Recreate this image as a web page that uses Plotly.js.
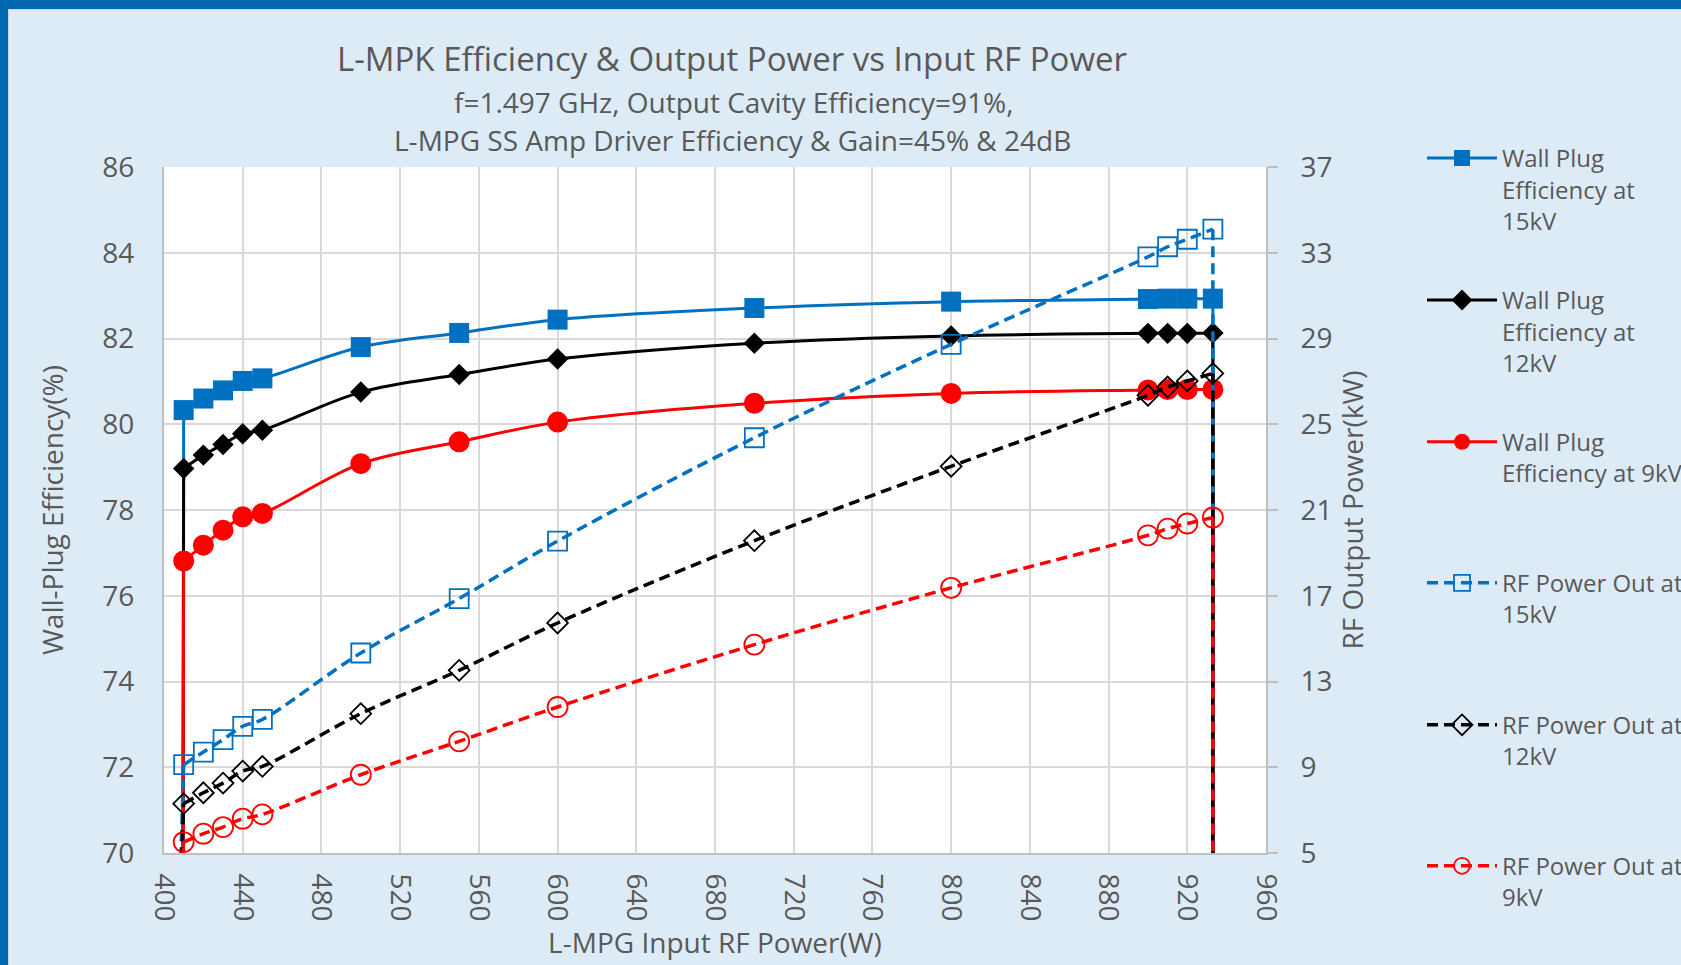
<!DOCTYPE html>
<html>
<head>
<meta charset="utf-8">
<script src="https://cdn.plot.ly/plotly-3.0.1.min.js"></script>
<style>
  html, body { margin: 0; padding: 0; background: #DDEBF7; }
  #chart { position: absolute; left: 0; top: 0; width: 1681px; height: 965px; }
  #frameTop { position: absolute; left: 0; top: 0; width: 1681px; height: 9px; background: #0067B1; pointer-events: none; }
  #frameLeft { position: absolute; left: 0; top: 0; width: 8px; height: 965px; background: #0067B1; pointer-events: none; }
  #frameInner { position: absolute; left: 8px; top: 9px; width: 1673px; height: 956px; border-top: 1px solid #C9D3DD; border-left: 1px solid #C9D3DD; box-sizing: border-box; pointer-events: none; }
</style>
</head>
<body>
<div id="chart"></div>
<div id="frameInner"></div>
<div id="frameTop"></div>
<div id="frameLeft"></div>
<script>
// Input RF power (W); first and last rows are the zero entries that drop the lines to the axis
const inputPowerW = [407, 410, 420, 430, 440, 450, 500, 550, 600, 700, 800, 900, 910, 920, 933, 933];

// Wall-plug efficiency (%) - left axis
const wallPlug15kV = [0, 80.33, 80.60, 80.79, 81.01, 81.07, 81.80, 82.13, 82.44, 82.71, 82.86, 82.92, 82.93, 82.93, 82.93, 0];
const wallPlug12kV = [0, 78.97, 79.28, 79.53, 79.78, 79.86, 80.75, 81.16, 81.52, 81.89, 82.06, 82.12, 82.12, 82.12, 82.13, 0];
const wallPlug9kV  = [0, 76.81, 77.18, 77.53, 77.84, 77.92, 79.08, 79.59, 80.05, 80.49, 80.72, 80.80, 80.81, 80.81, 80.81, 0];

// RF output power (kW) - right axis
const rfOut15kV = [0, 9.12, 9.71, 10.29, 10.91, 11.23, 14.33, 16.87, 19.55, 24.37, 28.73, 32.81, 33.28, 33.63, 34.10, 0];
const rfOut12kV = [0, 7.30, 7.81, 8.26, 8.82, 9.04, 11.50, 13.52, 15.73, 19.57, 23.04, 26.35, 26.74, 27.02, 27.37, 0];
const rfOut9kV  = [0, 5.51, 5.90, 6.21, 6.60, 6.80, 8.65, 10.21, 11.81, 14.72, 17.37, 19.82, 20.13, 20.37, 20.65, 0];

const seriesNames = [
  "\u00a0<br>\u00a0<br>Wall Plug<br>Efficiency at<br>15kV",
  "\u00a0<br>\u00a0<br>Wall Plug<br>Efficiency at<br>12kV",
  "\u00a0<br>Wall Plug<br>Efficiency at 9kV",
  "\u00a0<br>RF Power Out at<br>15kV",
  "\u00a0<br>RF Power Out at<br>12kV",
  "\u00a0<br>RF Power Out at<br>9kV"
];

const BLUE = '#0070C0', BLACK = '#000000', RED = '#FF0000';
const FONT = 'Open Sans, Lato, sans-serif';
const GREYTXT = '#595959';

// smooth curve through the measured points (without the zero rows)
function curveX() { return inputPowerW.slice(1, -1); }
// straight drop segments joining the zero rows to the first / last measured points
function dropX() { return inputPowerW.slice(0, 2).concat([null], inputPowerW.slice(-2)); }
function dropY(y) { return y.slice(0, 2).concat([null], y.slice(-2)); }

function series(y, axis, color, dash, width, symbol, size, open, name, legendId) {
  const line = { color: color, width: width, shape: 'spline', smoothing: 1 };
  if (dash) line.dash = dash;
  const main = {
    x: curveX(), y: y.slice(1, -1), type: 'scatter', mode: 'lines+markers', name: name,
    yaxis: axis, legend: legendId, line: line,
    marker: { color: color, symbol: symbol, size: size,
              line: open ? { color: color, width: 1.8 } : { width: 0 } }
  };
  const dropLine = { color: color, width: width, shape: 'linear' };
  if (dash) dropLine.dash = dash;
  const drop = {
    x: dropX(), y: dropY(y), type: 'scatter', mode: 'lines', showlegend: false,
    yaxis: axis, legend: legendId, connectgaps: false, line: dropLine, hoverinfo: 'skip'
  };
  return [drop, main];
}

const DASH = '11px,6px';
const traces = [].concat(
  series(wallPlug15kV, 'y', BLUE, null, 3, 'square', 20, false, seriesNames[0], 'legend'),
  series(wallPlug12kV, 'y', BLACK, null, 3, 'diamond', 16.5, false, seriesNames[1], 'legend2'),
  series(wallPlug9kV, 'y', RED, null, 3, 'circle', 21, false, seriesNames[2], 'legend3'),
  series(rfOut15kV, 'y2', BLUE, DASH, 3.5, 'square-open', 19, true, seriesNames[3], 'legend4'),
  series(rfOut12kV, 'y2', BLACK, DASH, 3.5, 'diamond-open', 16, true, seriesNames[4], 'legend5'),
  series(rfOut9kV, 'y2', RED, DASH, 3.5, 'circle-open', 20, true, seriesNames[5], 'legend6')
);

const legendY = [158, 300, 442, 583, 725, 866];
function legendAt(i) {
  return {
    xref: 'container', yref: 'container',
    x: 1422 / 1681, y: 1 - legendY[i] / 965,
    xanchor: 'left', yanchor: 'middle',
    bgcolor: 'rgba(0,0,0,0)', borderwidth: 0,
    itemwidth: 70,
    font: { family: FONT, size: 24, color: GREYTXT }
  };
}

const layout = {
  width: 1681, height: 965,
  paper_bgcolor: '#DDEBF7', plot_bgcolor: '#FFFFFF',
  margin: { l: 164, r: 415, t: 167, b: 112.4, pad: 0 },
  font: { family: FONT, color: GREYTXT },
  title: {
    text: 'L-MPK Efficiency & Output Power vs Input RF Power',
    font: { family: FONT, size: 33, color: GREYTXT },
    xref: 'container', yref: 'container',
    x: 732 / 1681, xanchor: 'center', y: 1 - 59 / 965, yanchor: 'middle'
  },
  annotations: [
    { text: 'f=1.497 GHz, Output Cavity Efficiency=91%,', xref: 'paper', yref: 'paper',
      x: (733 - 164) / 1102, y: (852.6 - 102) / 685.6, xanchor: 'center', yanchor: 'middle',
      showarrow: false, font: { family: FONT, size: 28, color: GREYTXT } },
    { text: 'L-MPG SS Amp Driver Efficiency & Gain=45% & 24dB', xref: 'paper', yref: 'paper',
      x: (732 - 164) / 1102, y: (852.6 - 140) / 685.6, xanchor: 'center', yanchor: 'middle',
      showarrow: false, font: { family: FONT, size: 28, color: GREYTXT } }
  ],
  xaxis: {
    range: [400, 960], tick0: 400, dtick: 40, tickangle: 90,
    showgrid: true, gridcolor: '#D9D9D9', gridwidth: 2,
    showline: true, linecolor: '#BFBFBF', linewidth: 2, zeroline: false,
    ticks: '', ticklabelstandoff: 13,
    tickfont: { family: FONT, size: 28, color: GREYTXT },
    title: { text: 'L-MPG Input RF Power(W)', standoff: 13, font: { family: FONT, size: 28, color: GREYTXT } }
  },
  yaxis: {
    range: [70, 86], tick0: 70, dtick: 2,
    showgrid: true, gridcolor: '#D9D9D9', gridwidth: 2,
    showline: true, linecolor: '#BFBFBF', linewidth: 2, zeroline: false,
    ticks: '', ticklabelstandoff: 22,
    tickfont: { family: FONT, size: 28, color: GREYTXT },
    title: { text: 'Wall-Plug Efficiency(%)', standoff: 31, font: { family: FONT, size: 28, color: GREYTXT } }
  },
  yaxis2: {
    range: [5, 37], tick0: 5, dtick: 4, overlaying: 'y', side: 'right',
    showgrid: false, zeroline: false,
    showline: true, linecolor: '#BFBFBF', linewidth: 2,
    ticks: 'outside', ticklen: 10, tickcolor: '#BFBFBF', tickwidth: 2, ticklabelstandoff: 17,
    tickfont: { family: FONT, size: 28, color: GREYTXT },
    title: { text: 'RF Output Power(kW)', standoff: 10, font: { family: FONT, size: 28, color: GREYTXT } }
  },
  legend: legendAt(0), legend2: legendAt(1), legend3: legendAt(2),
  legend4: legendAt(3), legend5: legendAt(4), legend6: legendAt(5),
  showlegend: true
};

Plotly.newPlot('chart', traces, layout, { displayModeBar: false, staticPlot: true });
</script>
</body>
</html>
